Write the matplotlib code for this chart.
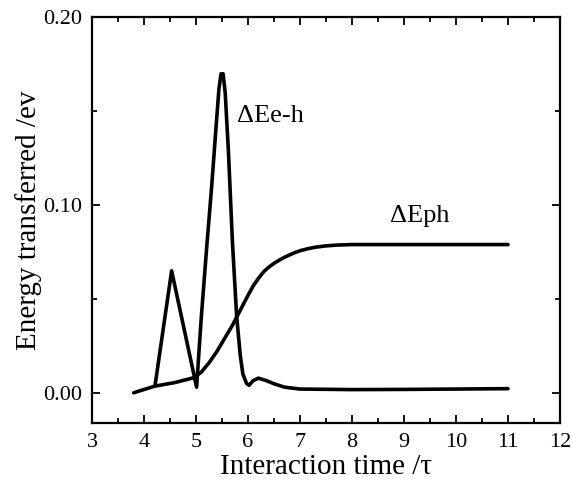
import matplotlib
matplotlib.use("Agg")
import matplotlib.pyplot as plt
from matplotlib.ticker import MultipleLocator

plt.rcParams['font.family'] = ['Liberation Serif', 'DejaVu Serif']

# Energy transferred to phonons (ΔEph)
t_ph = [3.8, 4.2, 4.6, 4.95, 5.1, 5.25, 5.4, 5.55, 5.7, 5.85, 6.0, 6.1, 6.2, 6.3, 6.4, 6.5, 6.6, 6.7, 6.8, 6.9, 7.0, 7.15, 7.3, 7.5, 7.7, 8.0, 9.0, 10.0, 11.0]
e_ph = [0.0, 0.0035, 0.0055, 0.008, 0.011, 0.016, 0.022, 0.029, 0.036, 0.044, 0.052, 0.057, 0.061, 0.0645, 0.067, 0.069, 0.0707, 0.0722, 0.0735, 0.0747, 0.0757, 0.0768, 0.0776, 0.0783, 0.0787, 0.079, 0.079, 0.079, 0.079]

# Energy transferred to electron-hole pairs (ΔEe-h)
t_eh = [4.21, 4.53, 5.01, 5.1, 5.2, 5.3, 5.38, 5.44, 5.48, 5.52, 5.56, 5.62, 5.7, 5.78, 5.85, 5.9, 5.97, 6.02, 6.1, 6.2, 6.35, 6.5, 6.7, 7.0, 8.0, 9.0, 10.0, 11.0]
e_eh = [0.0037, 0.065, 0.003, 0.04, 0.076, 0.11, 0.14, 0.162, 0.17, 0.17, 0.16, 0.13, 0.08, 0.041, 0.02, 0.01, 0.005, 0.004, 0.0065, 0.0078, 0.0065, 0.0048, 0.003, 0.002, 0.0017, 0.0018, 0.002, 0.0022]

fig = plt.figure(figsize=(5.72, 4.86), dpi=100)
ax = fig.add_axes([0.161, 0.130, 0.818, 0.834])

ax.plot(t_ph, e_ph, color='black', linewidth=2.6, solid_capstyle='round', solid_joinstyle='round')
ax.plot(t_eh, e_eh, color='black', linewidth=2.6, solid_capstyle='round', solid_joinstyle='round')

ax.text(5.79, 0.1476, 'ΔEe-h', fontsize=19, va='center', ha='left')
ax.text(8.73, 0.094, 'ΔEph', fontsize=19, va='center', ha='left')

ax.set_xlim(3, 12)
ax.set_ylim(-0.016, 0.20)
ax.xaxis.set_major_locator(MultipleLocator(1))
ax.xaxis.set_minor_locator(MultipleLocator(0.5))
ax.set_yticks([0.0, 0.1, 0.2])
ax.set_yticklabels(['0.00', '0.10', '0.20'])
ax.yaxis.set_minor_locator(MultipleLocator(0.05))

ax.tick_params(which='both', direction='in', top=True, right=True, labelsize=16, width=1.3)
ax.tick_params(which='major', length=6, pad=7)
ax.tick_params(which='minor', length=3.5)
for s in ax.spines.values():
    s.set_linewidth(1.6)

ax.set_xlabel('Interaction time /τ', fontsize=21, labelpad=2)
ax.set_ylabel('Energy transferred /ev', fontsize=21, labelpad=1)

fig.savefig('out.png', dpi=100)
